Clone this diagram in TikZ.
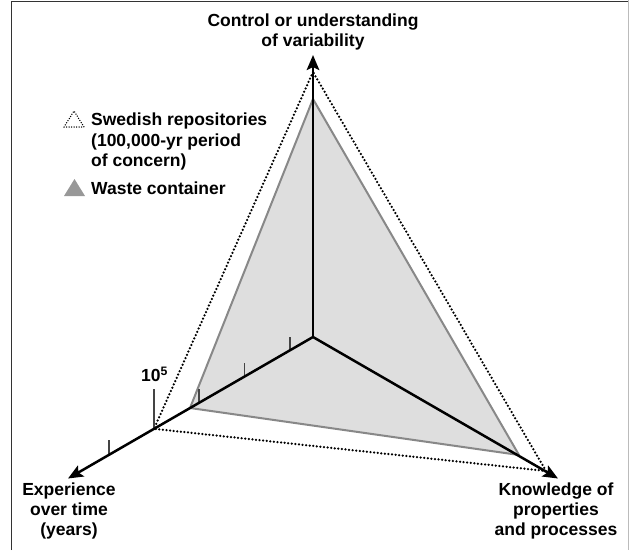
\documentclass[tikz,border=0pt]{standalone}
\usepackage{fontspec}
\setmainfont{Liberation Sans}
\usetikzlibrary{arrows.meta}
\definecolor{framegray}{HTML}{333333}
\definecolor{edgegray}{HTML}{BBBBBB}
\definecolor{shadefill}{HTML}{DEDEDE}
\definecolor{shadeedge}{HTML}{888888}
\definecolor{legendgray}{HTML}{989898}
\definecolor{tickgray}{HTML}{444444}
\begin{document}
\begin{tikzpicture}[x=1pt,y=-1pt,
  axisline/.style={line width=2.5pt, black, -{Stealth[length=15pt,width=12.5pt,inset=3pt]}},
  dotline/.style={line width=2.5pt, black, line cap=round, dash pattern=on 0pt off 3.6pt},
  shade/.style={fill=shadefill, draw=shadeedge, line width=2pt, line join=round},
  tickmark/.style={line width=1.1pt, tickgray},
  lbl/.style={font=\bfseries\fontsize{17.5}{20}\selectfont, inner sep=0pt, align=center},
  legendtxt/.style={font=\bfseries\fontsize{17.5}{20.5}\selectfont, inner sep=0pt, align=left, anchor=west}
]
\useasboundingbox (0,0) rectangle (629,550);

% frame
\draw[line width=1.4pt, framegray] (11.5,550) -- (11.5,1.5) -- (629,1.5);
\draw[line width=1pt, edgegray] (628,0) -- (628,550);

% axis end points
\coordinate (O) at (313,337);
\coordinate (Ttop) at (313,55);
\coordinate (Tleft) at (68,478.5);
\coordinate (Tright) at (558,478.5);

% waste container triangle
\coordinate (Wtop) at (313,99);
\coordinate (Wleft) at (190,408);
\coordinate (Wright) at (519,455);
\draw[shade] (Wtop) -- (Wleft) -- (Wright) -- cycle;

% Swedish repositories triangle
\coordinate (Stop) at (313,72);
\coordinate (Sleft) at (154,428.8);
\coordinate (Sright) at (546,471);
\draw[dotline] (Stop) -- (Sleft) -- (Sright) -- cycle;

% ticks on the experience axis
\draw[tickmark] (290,350.3) -- (290,337);
\draw[tickmark] (244.5,376.5) -- (244.5,363);
\draw[tickmark] (199,402.8) -- (199,389);
\draw[tickmark] (154,428.8) -- (154,389);
\draw[tickmark] (109,454.8) -- (109,440);

% axes
\draw[axisline] (O) -- (Ttop);
\draw[axisline] (O) -- (Tleft);
\draw[axisline] (O) -- (Tright);

% axis labels
\node[lbl] (ctl) at (313,32) {Control or understanding\\of variability};
\node[lbl] (exp) at (69,511) {Experience\\over time\\(years)};
\node[lbl] (knw) at (556,511) {Knowledge of\\properties\\and processes};
\node[lbl] (tenfive) at (154.5,374) {10\textsuperscript{5}};

% legend
\draw[line width=1.5pt, black, line cap=round, dash pattern=on 0pt off 2.5pt] (64,127) -- (74,111) -- (84,127) -- cycle;
\node[legendtxt] (swe) at (91,141.5) {Swedish repositories\\(100,000-yr period\\of concern)};
\fill[legendgray] (64,196) -- (74.5,179) -- (85,196) -- cycle;
\node[legendtxt] (wst) at (91,188) {Waste container};
\end{tikzpicture}
\end{document}
